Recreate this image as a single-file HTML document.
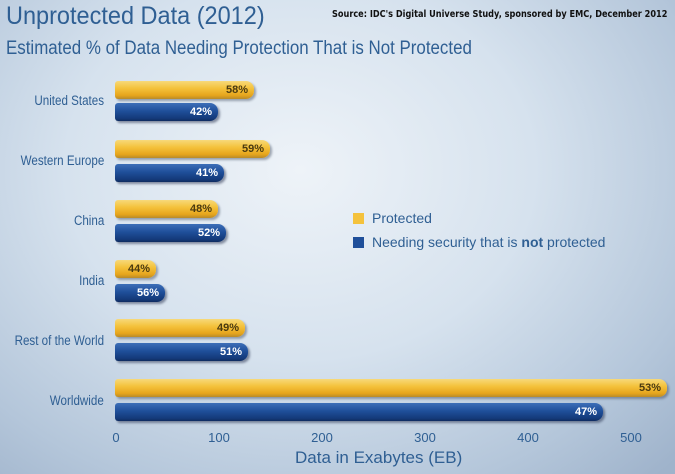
<!DOCTYPE html>
<html><head><style>
body{margin:0}
#c{position:relative;width:675px;height:474px;overflow:hidden;font-family:"Liberation Sans",sans-serif;
background:radial-gradient(ellipse 520px 420px at 300px 170px,#eef3f8 0%,#d6e2ee 45%,#b4c6da 80%,#9fb3cb 100%);}
.t{position:absolute;color:#2f5f93;white-space:nowrap}
.b{position:absolute;left:115px;height:18px;border-radius:3px 8px 8px 3px;box-sizing:border-box;text-align:right;padding-right:6px;font-size:11px;font-weight:bold;line-height:18px;transform-origin:left}
.y{background:linear-gradient(#f7d97a,#f4c23c 40%,#e6a51c 80%,#b88a2a);color:#4a3a10;box-shadow:2px 2px 2px rgba(60,70,90,.45)}
.u{background:linear-gradient(#3d6fb8,#1f4f9a 45%,#143a7a 85%,#0f2c60);color:#fff;box-shadow:2px 2px 2px rgba(40,50,80,.5)}
.l{position:absolute;right:571px;font-size:13.5px;color:#2f5f93;text-align:right;white-space:nowrap;transform:scaleX(.86);transform-origin:right}
.x{position:absolute;top:430px;font-size:13px;color:#2f5f93;width:40px;margin-left:-20px;text-align:center}
</style></head><body><div id="c">
<div class="t" style="left:6px;top:2px;font-size:25px;transform:scaleX(.94);transform-origin:left">Unprotected Data (2012)</div>
<div class="t" style="left:332px;top:9px;font-size:9.5px;color:#111;font-weight:bold;font-family:'DejaVu Sans',sans-serif;transform:scaleX(.86);transform-origin:left">Source: IDC's Digital Universe Study, sponsored by EMC, December 2012</div>
<div class="t" style="left:6px;top:38px;font-size:19px;transform:scaleX(.89);transform-origin:left">Estimated % of Data Needing Protection That is Not Protected</div>

<div class="l" style="top:93px">United States</div>
<div class="b y" style="top:81px;width:139px">58%</div>
<div class="b u" style="top:103px;width:103px">42%</div>

<div class="l" style="top:153px">Western Europe</div>
<div class="b y" style="top:140px;width:155px">59%</div>
<div class="b u" style="top:164px;width:109px">41%</div>

<div class="l" style="top:213px">China</div>
<div class="b y" style="top:200px;width:103px">48%</div>
<div class="b u" style="top:224px;width:111px">52%</div>

<div class="l" style="top:273px">India</div>
<div class="b y" style="top:260px;width:41px">44%</div>
<div class="b u" style="top:284px;width:50px">56%</div>

<div class="l" style="top:333px">Rest of the World</div>
<div class="b y" style="top:319px;width:130px">49%</div>
<div class="b u" style="top:343px;width:133px">51%</div>

<div class="l" style="top:393px">Worldwide</div>
<div class="b y" style="top:379px;width:552px">53%</div>
<div class="b u" style="top:403px;width:488px">47%</div>

<div class="x" style="left:116px">0</div>
<div class="x" style="left:219px">100</div>
<div class="x" style="left:322px">200</div>
<div class="x" style="left:425px">300</div>
<div class="x" style="left:528px">400</div>
<div class="x" style="left:631px">500</div>
<div class="t" style="left:295px;top:448px;font-size:17px">Data in Exabytes (EB)</div>

<div style="position:absolute;left:353px;top:213px;width:11px;height:11px;background:#f4c23c"></div>
<div class="t" style="left:372px;top:210px;font-size:14px">Protected</div>
<div style="position:absolute;left:353px;top:237px;width:11px;height:11px;background:#1f4f9a"></div>
<div class="t" style="left:372px;top:234px;font-size:14px">Needing security that is <b>not</b> protected</div>
</div></body></html>
